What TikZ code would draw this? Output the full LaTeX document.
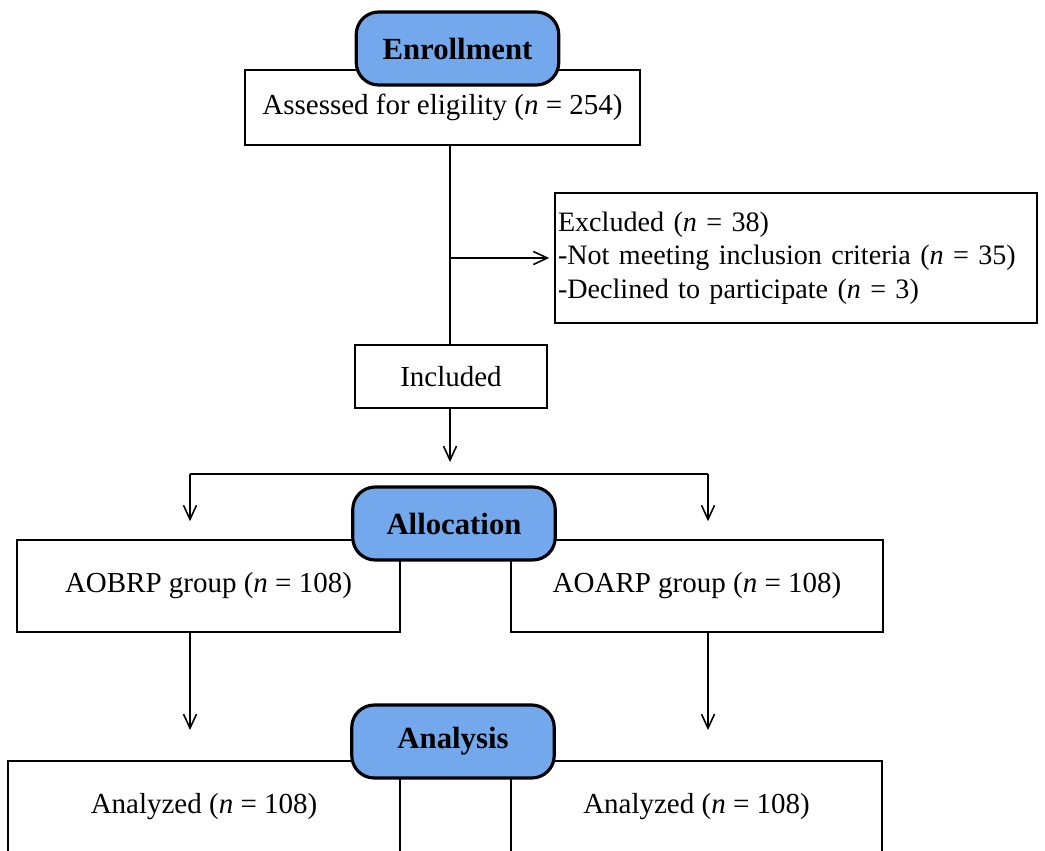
\documentclass[tikz,border=0pt]{standalone}
\usepackage{fontspec}
\setmainfont{Liberation Serif}
\usetikzlibrary{arrows.meta}
\definecolor{stageblue}{RGB}{116,168,236}

\tikzset{
  box/.style={draw, line width=0.9pt, fill=white, inner sep=2pt,
    font=\fontsize{16.5}{19}\selectfont},
  stage/.style={draw, line width=1.8pt, fill=stageblue, rounded corners=0.45cm,
    minimum width=4.05cm, minimum height=1.46cm,
    font=\fontsize{17.5}{20}\selectfont\bfseries},
  flow/.style={line width=0.9pt},
}

\begin{document}
\begin{tikzpicture}[>={Straight Barb[length=0.28cm,width=0.26cm]}]
  \useasboundingbox (0,0) rectangle (20.9,-17);

  % enrollment
  \node[box, minimum width=7.9cm, minimum height=1.5cm] (assessed) at (8.85,-2.15) {Assessed for eligility (\textit{n} = 254)};
  \node[stage] (enroll) at (9.15,-0.97) {Enrollment};
  \node[box, inner xsep=0.06cm, text width=9.52cm, align=left, minimum height=2.6cm,
    font=\fontsize{16}{19}\selectfont] (excluded) at (15.92,-5.16)
    {Excluded (\textit{n} = 38)\\-Not meeting inclusion criteria (\textit{n} = 35)\\-Declined to participate (\textit{n} = 3)};
  \node[box, minimum width=3.84cm, minimum height=1.26cm] (included) at (9.02,-7.53) {Included};

  % allocation
  \node[box, minimum width=7.66cm, minimum height=1.84cm] (aobrp) at (4.17,-11.72) {AOBRP group (\textit{n} = 108)};
  \node[box, minimum width=7.44cm, minimum height=1.84cm] (aoarp) at (13.94,-11.72) {AOARP group (\textit{n} = 108)};
  \node[stage] (alloc) at (9.08,-10.47) {Allocation};

  % analysis
  \node[box, anchor=north, minimum width=7.84cm, minimum height=1.84cm] (analyzedl) at (4.08,-15.2) {Analyzed (\textit{n} = 108)};
  \node[box, anchor=north, minimum width=7.42cm, minimum height=1.84cm] (analyzedr) at (13.93,-15.2) {Analyzed (\textit{n} = 108)};
  \node[stage] (analysis) at (9.06,-14.83) {Analysis};

  % connectors
  \coordinate (split) at (9.0,-9.48);
  \coordinate (lsplit) at (3.8,-9.48);
  \coordinate (rsplit) at (14.16,-9.48);
  \draw[flow] (assessed.south -| split) -- (included.north -| split);
  \draw[flow,->,shorten >=0.1cm] (excluded.west -| split) -- (excluded.west);
  \draw[flow,->,shorten >=0.24cm] (included.south -| split) -- (split);
  \draw[flow] (lsplit) -- (rsplit);
  \draw[flow,->,shorten >=0.36cm] (lsplit) -- (lsplit |- aobrp.north);
  \draw[flow,->,shorten >=0.36cm] (rsplit) -- (rsplit |- aoarp.north);
  \draw[flow,->,shorten >=0.6cm] (lsplit |- aobrp.south) -- (lsplit |- analyzedl.north);
  \draw[flow,->,shorten >=0.6cm] (rsplit |- aoarp.south) -- (rsplit |- analyzedr.north);
\end{tikzpicture}
\end{document}
